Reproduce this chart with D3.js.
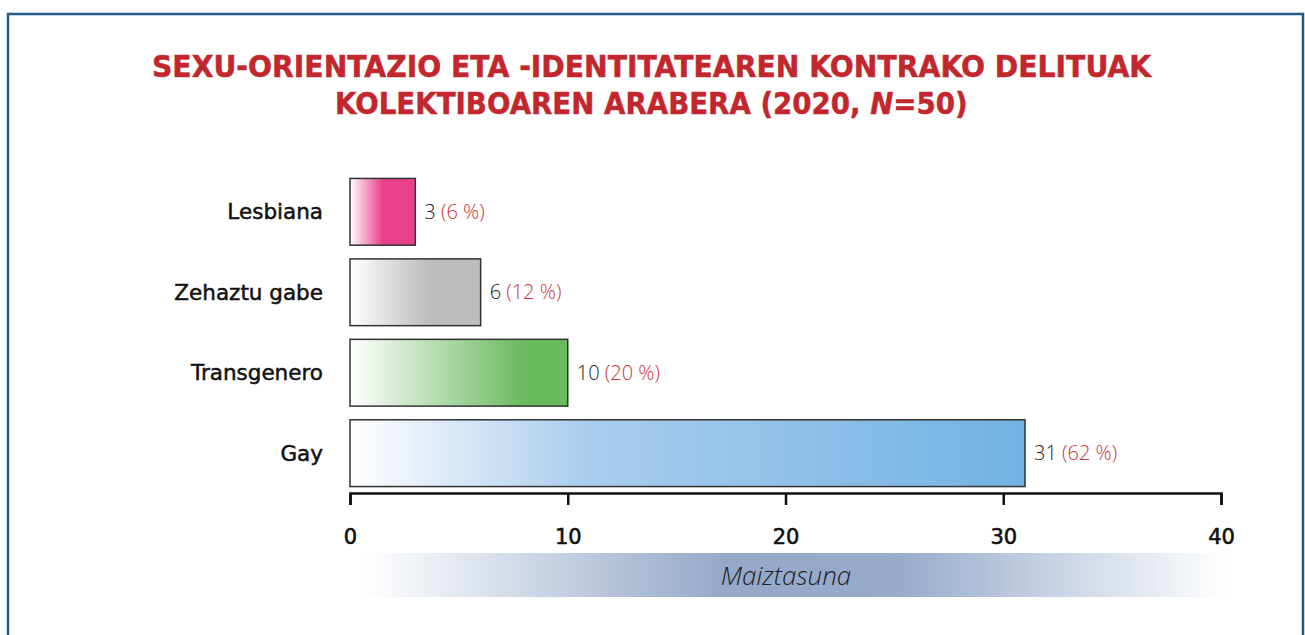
<!DOCTYPE html>
<html><head><meta charset="utf-8">
<script src="https://cdn.jsdelivr.net/npm/d3@7"></script>
<style>body{margin:0;background:#fff}svg{display:block}</style>
</head><body>
<svg id="c" width="1305" height="635"></svg>
<script>
const categories = ["Lesbiana", "Zehaztu gabe", "Transgenero", "Gay"];
const values = [3, 6, 10, 31];
const percents = ["6 %", "12 %", "20 %", "62 %"];
const colors = ["#e8408a", "#bdbdbd", "#6ab95e", "#72b2e2"];
const xTicks = [0, 10, 20, 30, 40];
const titleLines = ["SEXU-ORIENTAZIO ETA -IDENTITATEAREN KONTRAKO DELITUAK", "KOLEKTIBOAREN ARABERA (2020, "];
const axisTitle = "Maiztasuna";

const svg = d3.select("#c");
const font = "'DejaVu Sans', sans-serif";

// frame
svg.append("path").attr("d", "M8,640 V14 H1303 V640").attr("fill", "none")
  .attr("stroke", "#1f5a8a").attr("stroke-width", 2.5);

// title
const t = svg.append("g").attr("font-family", font).attr("font-weight", 700)
  .attr("font-size", 30).attr("fill", "#c1272d").attr("stroke", "#c1272d").attr("stroke-width", 0.5);
function fitText(sel, left, width) {
  const w = sel.node().getComputedTextLength();
  sel.attr("transform", `translate(${left},0) scale(${width / w},1)`).attr("x", 0);
}
const t1 = t.append("text").attr("y", 77).text(titleLines[0]);
fitText(t1, 152, 1000);
const t2 = t.append("text").attr("y", 114);
t2.append("tspan").text(titleLines[1]);
t2.append("tspan").attr("font-style", "italic").text("N");
t2.append("tspan").text("=50)");
fitText(t2, 335, 633);

const x = d3.scaleLinear().domain([0, 40]).range([350, 1221]);
const y = d3.scaleBand().domain(categories).range([172, 493]).paddingInner(0.17).paddingOuter(0.08);

const defs = svg.append("defs");
const gradStops = [
  [[0, "#ffffff"], [0.5, null], [1, null]],
  [[0, "#ffffff"], [0.6, null], [1, null]],
  [[0, "#ffffff"], [0.8, null], [1, null]],
  [[0, "#ffffff"], [0.12, "#e2edf9"], [0.35, "#aacdee"], [1, null]]
];
colors.forEach((c, i) => {
  const g = defs.append("linearGradient").attr("id", "g" + i).attr("x1", 0).attr("x2", 1).attr("y1", 0).attr("y2", 0);
  gradStops[i].forEach(s => g.append("stop").attr("offset", s[0]).attr("stop-color", s[1] || c));
});
const ag = defs.append("linearGradient").attr("id", "ag").attr("x1", 0).attr("x2", 1);
ag.append("stop").attr("offset", 0).attr("stop-color", "#ffffff");
ag.append("stop").attr("offset", 0.42).attr("stop-color", "#94a8c9");
ag.append("stop").attr("offset", 0.62).attr("stop-color", "#97abcc");
ag.append("stop").attr("offset", 1).attr("stop-color", "#ffffff");

// bars
svg.selectAll("rect.bar").data(categories).join("rect").attr("class", "bar")
  .attr("x", x(0)).attr("y", d => y(d))
  .attr("width", (d, i) => x(values[i]) - x(0)).attr("height", y.bandwidth())
  .attr("fill", (d, i) => `url(#g${i})`).attr("stroke", "#333").attr("stroke-width", 1.5);

// category labels
svg.selectAll("text.cat").data(categories).join("text").attr("class", "cat")
  .attr("x", 323).attr("y", d => y(d) + y.bandwidth() / 2).attr("dy", "0.35em")
  .attr("text-anchor", "end").attr("font-family", font).attr("font-weight", 400)
  .attr("font-size", 21.5).attr("fill", "#111").attr("stroke", "#111").attr("stroke-width", 0.5)
  .text(d => d);

// value labels
const vl = svg.selectAll("text.val").data(categories).join("text").attr("class", "val")
  .attr("x", (d, i) => x(values[i]) + 9).attr("y", d => y(d) + y.bandwidth() / 2).attr("dy", "0.35em")
  .attr("font-family", "'Open Sans', sans-serif").attr("font-weight", 300).attr("font-size", 20).attr("fill", "#222");
vl.append("tspan").text((d, i) => values[i] + " ");
vl.append("tspan").attr("fill", "#c7343c").text((d, i) => "(" + percents[i] + ")");

// axis
const ax = svg.append("g").attr("transform", "translate(0,493)")
  .call(d3.axisBottom(x).tickValues(xTicks).tickSize(12).tickSizeOuter(12).tickPadding(24));
ax.select(".domain").attr("stroke", "#111").attr("stroke-width", 2.5);
ax.selectAll(".tick line").attr("stroke", "#111").attr("stroke-width", 2.5);
ax.selectAll(".tick text").attr("font-family", font).attr("font-weight", 400)
  .attr("font-size", 21).attr("fill", "#111").attr("stroke", "#111").attr("stroke-width", 0.6);

// axis title band
svg.append("rect").attr("x", 362).attr("y", 553).attr("width", 866).attr("height", 44).attr("fill", "url(#ag)");
svg.append("text").attr("x", 786).attr("y", 576).attr("dy", "0.35em").attr("text-anchor", "middle")
  .attr("font-family", "'Open Sans', sans-serif").attr("font-style", "italic").attr("font-weight", 300)
  .attr("font-size", 26).attr("fill", "#222").text(axisTitle);
</script>
</body></html>
